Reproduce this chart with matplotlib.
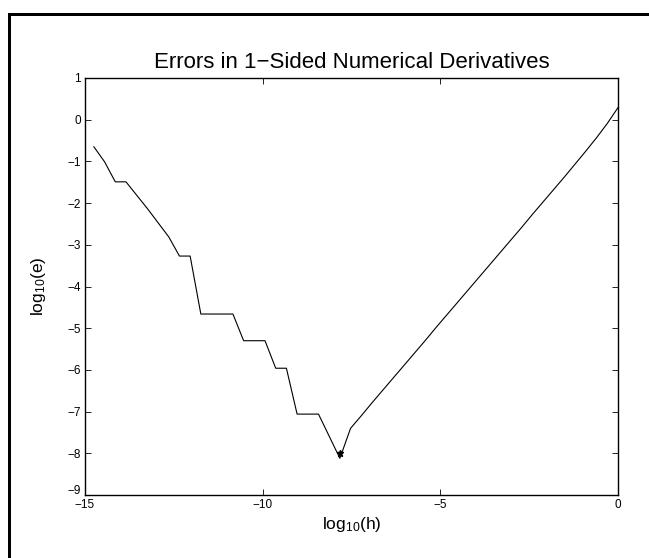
import matplotlib
matplotlib.use("Agg")
import matplotlib.pyplot as plt
from matplotlib.lines import Line2D
from matplotlib.transforms import ScaledTranslation

plt.rcParams['font.family'] = ['Liberation Sans', 'DejaVu Sans']
plt.rcParams['mathtext.default'] = 'regular'

# log10(h) values (h = 2^-k)
log_h = [-14.750, -14.449, -14.148, -13.847, -13.546, -13.245, -12.944, -12.643,
         -12.342, -12.041, -11.740, -11.439, -11.138, -10.837, -10.536, -10.235,
         -9.934, -9.633, -9.332, -9.031, -8.730, -8.429, -8.128, -7.827,
         -7.526, -7.225, -6.924, -6.623, -6.322, -6.021, -5.720, -5.419,
         -5.118, -4.816, -4.515, -4.214, -3.913, -3.612, -3.311, -3.010,
         -2.709, -2.408, -2.107, -1.806, -1.505, -1.204, -0.903, -0.602,
         -0.301, 0.000]
# log10(error) values
log_e = [-0.65, -1.01, -1.49, -1.49, -1.81, -2.13, -2.47, -2.81,
         -3.27, -3.27, -4.66, -4.66, -4.66, -4.66, -5.30, -5.30,
         -5.30, -5.96, -5.96, -7.06, -7.06, -7.06, -7.59, -8.12,
         -7.40, -7.10, -6.79, -6.49, -6.19, -5.89, -5.59, -5.29,
         -4.98, -4.68, -4.38, -4.08, -3.78, -3.48, -3.18, -2.88,
         -2.58, -2.27, -1.97, -1.67, -1.37, -1.06, -0.75, -0.43,
         -0.09, 0.29]

# marked optimum
opt_h = [-7.83]
opt_e = [-8.00]

x_ticks = [-15, -10, -5, 0]
y_ticks = [-9, -8, -7, -6, -5, -4, -3, -2, -1, 0, 1]

title = "Errors in 1\u2212Sided Numerical Derivatives"
xlabel = "log$_{10}$(h)"
ylabel = "log$_{10}$(e)"

W, H = 649, 558
fig = plt.figure(figsize=(W / 100, H / 100), dpi=100)
ax = fig.add_axes([85 / W, (H - 495) / H, 533 / W, 417 / H])

ax.plot(log_h, log_e, color='black', linewidth=0.8)
ax.plot(opt_h, opt_e, marker='*', color='black', markersize=5, linestyle='none')

ax.set_xlim(-15, 0)
ax.set_ylim(-9, 1)
ax.set_xticks(x_ticks)
ax.set_yticks(y_ticks)
ax.tick_params(direction='in', length=4, width=0.6, top=True, right=True,
               labelsize=8.5, pad=3)
for s in ax.spines.values():
    s.set_linewidth(1.0)

# the lowest y label sits a little higher, clear of the x labels
fig.canvas.draw()
lab = ax.get_yticklabels()[0]
lab.set_transform(lab.get_transform() + ScaledTranslation(0, 5 / 100, fig.dpi_scale_trans))

ax.set_title(title, fontsize=16, pad=7)
ax.set_xlabel(xlabel, fontsize=12.5, labelpad=3)
ax.set_ylabel(ylabel, fontsize=12.5, labelpad=14)

# outer frame (left and top edges)
lw = 3 * 72 / 100
fig.add_artist(Line2D([9 / W, 9 / W], [-0.1, (H - 14) / H], transform=fig.transFigure,
                      color='black', linewidth=lw, solid_capstyle='projecting'))
fig.add_artist(Line2D([9 / W, 1.1], [(H - 14) / H, (H - 14) / H], transform=fig.transFigure,
                      color='black', linewidth=lw, solid_capstyle='projecting'))

fig.savefig("out.png", dpi=100)
